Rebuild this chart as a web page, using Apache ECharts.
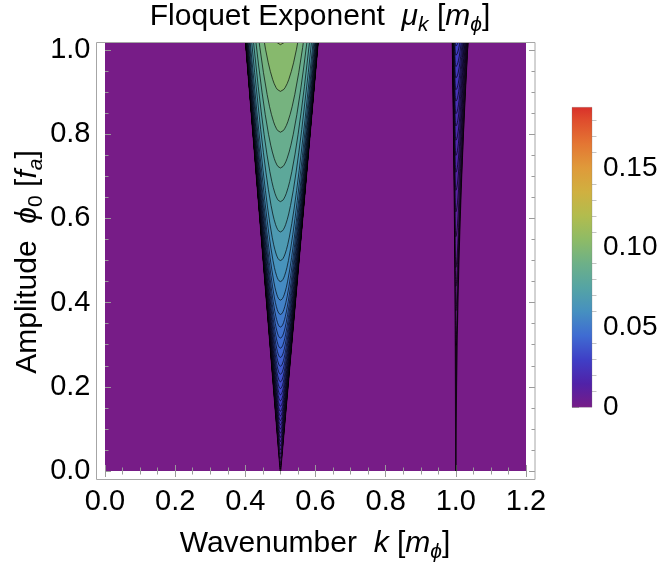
<!DOCTYPE html>
<html><head><meta charset="utf-8">
<script src="https://cdn.jsdelivr.net/npm/echarts@6/dist/echarts.min.js"></script>
<style>html,body{margin:0;padding:0;background:#fff}#c{width:663px;height:564px}</style>
</head><body><div id="c"></div>
<script>
// ---------------- data ----------------
const kRange = [0, 1.2];
const phiRange = [0, 1.017];
const xTickInterval = 0.2;
const yTicks = [0, 0.2, 0.4, 0.6, 0.8, 1.0];
const yMinorTicks = [0.05,0.1,0.15,0.25,0.3,0.35,0.45,0.5,0.55,0.65,0.7,0.75,0.85,0.9,0.95];
const cbRange = [0, 0.188];
const cbTicks = [0, 0.05, 0.10, 0.15];
const cbMinorTicks = [0.01,0.02,0.03,0.04,0.06,0.07,0.08,0.09,0.11,0.12,0.13,0.14,0.16,0.17,0.18];
// colour scale (value -> colour)
const paletteStops = [
  [0, '#771c87'], [0.015, '#5022a8'], [0.03, '#3f3fc6'], [0.045, '#3f6cd2'],
  [0.06, '#4690c0'], [0.075, '#55a4a4'], [0.09, '#6db088'], [0.105, '#8ebb66'],
  [0.12, '#b2bc4e'], [0.135, '#d0b040'], [0.15, '#df9a3a'], [0.165, '#e47633'],
  [0.18, '#df4c2d'], [0.188, '#d9302a']
];
// instability bands: tip position, edge widths at phi0 = 1 (left/right), growth power
const bandTips = [0.5, 1.0];
const bandLeftWidth = [0.0970, 0.0091];
const bandRightWidth = [0.1049, 0.0326];
const bandPower = [1, 2];
const edgeRows = [0, 0.05, 0.1, 0.2, 0.3, 0.4, 0.5, 0.6, 0.7, 0.8, 0.9, 1.0, 1.1];
// contour levels (mu) and the amplitude where each contour closes in each band
const contourLevels = [0.1060,0.0977,0.0902,0.0834,0.0768,0.0707,0.0646,0.0600,0.0559,0.0526,0.0496,0.0469,
  0.0444,0.0420,0.0397,0.0375,0.0354,0.0336,0.0317,0.0300,0.0283,0.0268,0.0253,0.0238,0.0224,0.0209,
  0.0195,0.0179,0.0163,0.0146,0.0129,0.0110,0.0090,0.0068,0.0056,0.0042,0.0026];
const band1Bottoms = [1.013,0.902,0.805,0.72,0.64,0.568,0.50,0.45,0.406,0.372,0.342,0.316,
  0.292,0.27,0.249,0.23,0.212,0.196,0.181,0.167,0.154,0.142,0.131,0.12,0.11,0.10,
  0.09,0.08,0.07,0.06,0.05,0.04,0.03,0.02,0.015,0.01,0.005];
const band2Bottoms = [null,null,null,null,null,null,null,null,null,null,null,null,
  null,null,null,null,null,null,null,1.01,0.988,0.961,0.934,0.906,0.879,0.849,
  0.820,0.786,0.750,0.710,0.667,0.616,0.557,0.484,0.439,0.381,0.299];
// shape of a contour across a band: (level / local maximum) -> (half width / band half width)
const contourProfile = [[1,0],[0.995,0.0999],[0.99,0.141],[0.98,0.199],[0.97,0.243],[0.95,0.312],
  [0.93,0.368],[0.9,0.436],[0.85,0.527],[0.8,0.6],[0.75,0.661],[0.7,0.714],[0.6,0.8],[0.5,0.866],
  [0.4,0.917],[0.3,0.954],[0.2,0.98],[0.1,0.995],[0.05,0.9987],[0.02,0.9998],[0.005,1],[0.001,1]];

// ---------------- styling ----------------
const FONT = '"Liberation Sans", Arial, sans-serif';
const tickColor = '#9a9a9a';
const lineColor = 'rgba(0,0,0,0.66)';
const edgeColor = 'rgba(0,0,0,0.85)';

function hexToRgb(h){return [parseInt(h.slice(1,3),16),parseInt(h.slice(3,5),16),parseInt(h.slice(5,7),16)];}
function colorAt(v){
  if (v <= paletteStops[0][0]) return paletteStops[0][1];
  for (let i=1;i<paletteStops.length;i++){
    if (v <= paletteStops[i][0]){
      const a=paletteStops[i-1], b=paletteStops[i];
      const t=(v-a[0])/(b[0]-a[0]);
      const ca=hexToRgb(a[1]), cb=hexToRgb(b[1]);
      const c=ca.map((x,j)=>Math.round(x+(cb[j]-x)*t));
      return 'rgb('+c.join(',')+')';
    }
  }
  return paletteStops[paletteStops.length-1][1];
}

function renderBand(params, api){
  const b = params.dataIndex;
  const tip = bandTips[b], wl = bandLeftWidth[b], wr = bandRightWidth[b], p = bandPower[b];
  const bottoms = b === 0 ? band1Bottoms : band2Bottoms;
  const children = [];
  const outer = [];
  for (let i=edgeRows.length-1;i>=0;i--){ const f=edgeRows[i]; outer.push(api.coord([tip - wl*Math.pow(f,p), f])); }
  for (let i=1;i<edgeRows.length;i++){ const f=edgeRows[i]; outer.push(api.coord([tip + wr*Math.pow(f,p), f])); }
  const lowest = contourLevels[contourLevels.length-1];
  children.push({type:'polygon', shape:{points:outer}, style:{fill: colorAt(lowest/2), stroke: edgeColor, lineWidth:1.6}});
  function arm(fb, w, sign){
    const pts=[];
    for (const [t, r] of contourProfile){
      const f = fb*Math.pow(t, -1/p);
      pts.push(api.coord([tip + sign*w*Math.pow(f,p)*r, f]));
      if (f > 1.1) break;
    }
    return pts;
  }
  for (let i=contourLevels.length-1;i>=0;i--){
    const fb = bottoms[i];
    if (fb == null) continue;
    const upper = i>0 ? contourLevels[i-1] : contourLevels[0]*1.04;
    const left = arm(fb, wl, -1).reverse();
    const right = arm(fb, wr, 1);
    const pts = left.concat(right.slice(1));
    children.push({type:'polygon', shape:{points:pts}, style:{fill: colorAt((contourLevels[i]+upper)/2), stroke: lineColor, lineWidth:1}});
  }
  return {type:'group', children};
}

function renderColorbar(params, api){
  const p0 = api.coord([0, cbRange[1]]);
  const p1 = api.coord([1, cbRange[0]]);
  const stops = paletteStops.map(s => ({offset: (s[0]-cbRange[0])/(cbRange[1]-cbRange[0]), color: s[1]}));
  return {type:'rect', shape:{x:p0[0], y:p0[1], width:p1[0]-p0[0], height:p1[1]-p0[1]},
    style:{fill: new echarts.graphic.LinearGradient(0,1,0,0,stops), stroke:'rgba(120,120,120,0.5)', lineWidth:0.5}};
}

const chart = echarts.init(document.getElementById('c'), null, {renderer:'canvas'});
const labelStyle = {fontSize:29, color:'#000', fontFamily:FONT};
function tickAxis(extra){
  return Object.assign({type:'value', axisLine:{show:false}, splitLine:{show:false}}, extra);
}
const nameRich = {
  a:{fontSize:30, fontFamily:FONT, fill:'#000', lineHeight:38},
  i:{fontSize:30, fontFamily:FONT, fill:'#000', fontStyle:'italic', lineHeight:38},
  s:{fontSize:21, fontFamily:FONT, fill:'#000', fontStyle:'italic', verticalAlign:'bottom', lineHeight:21},
  u:{fontSize:21, fontFamily:FONT, fill:'#000', verticalAlign:'bottom', lineHeight:21}
};
const option = {
  animation:false,
  backgroundColor:'#fff',
  grid:[
    {left:105, top:43, width:421, height:428, show:true, backgroundColor:'#771c87', borderWidth:0},
    {left:572, top:107.3, width:20, height:300}
  ],
  xAxis:[
    tickAxis({gridIndex:0, min:kRange[0], max:kRange[1], interval:xTickInterval, position:'bottom', offset:8.5,
      axisTick:{inside:true, length:6, lineStyle:{color:tickColor}},
      minorTick:{show:true, splitNumber:4, length:3.5, lineStyle:{color:tickColor}},
      axisLabel:Object.assign({margin:8, formatter:v=>v.toFixed(1)}, labelStyle)}),
    tickAxis({gridIndex:0, min:kRange[0], max:kRange[1], interval:xTickInterval, position:'top', offset:0,
      axisTick:{inside:true, length:6, lineStyle:{color:tickColor}},
      minorTick:{show:true, splitNumber:4, length:3.5, lineStyle:{color:tickColor}},
      axisLabel:{show:false}}),
    tickAxis({gridIndex:1, min:0, max:1, show:false})
  ],
  yAxis:[
    tickAxis({gridIndex:0, min:phiRange[0], max:phiRange[1], position:'left', offset:8.5,
      axisTick:{inside:true, length:6, customValues:yTicks, lineStyle:{color:tickColor}},
      axisLabel:Object.assign({margin:6, customValues:yTicks, formatter:v=>v.toFixed(1)}, labelStyle)}),
    tickAxis({gridIndex:0, min:phiRange[0], max:phiRange[1], position:'left', offset:8.5,
      axisTick:{inside:true, length:3.5, customValues:yMinorTicks, lineStyle:{color:tickColor}},
      axisLabel:{show:false}}),
    tickAxis({gridIndex:0, min:phiRange[0], max:phiRange[1], position:'right', offset:9,
      axisTick:{inside:true, length:6, customValues:yTicks, lineStyle:{color:tickColor}},
      axisLabel:{show:false}}),
    tickAxis({gridIndex:0, min:phiRange[0], max:phiRange[1], position:'right', offset:9,
      axisTick:{inside:true, length:3.5, customValues:yMinorTicks, lineStyle:{color:tickColor}},
      axisLabel:{show:false}}),
    tickAxis({gridIndex:1, min:cbRange[0], max:cbRange[1], position:'right', offset:0,
      axisTick:{inside:false, length:7, customValues:cbTicks, lineStyle:{color:'#aaa'}},
      axisLabel:{margin:11, customValues:cbTicks, fontSize:28, color:'#000', fontFamily:FONT,
        formatter:v=>v===0?'0':v.toFixed(2)}}),
    tickAxis({gridIndex:1, min:cbRange[0], max:cbRange[1], position:'right', offset:0,
      axisTick:{inside:false, length:4.5, customValues:cbMinorTicks, lineStyle:{color:'#c4c4c4'}},
      axisLabel:{show:false}})
  ],
  series:[
    {type:'custom', coordinateSystem:'cartesian2d', xAxisIndex:0, yAxisIndex:0, clip:true, silent:true,
      data:bandTips.map(t=>[t,0]), renderItem:renderBand},
    {type:'custom', coordinateSystem:'cartesian2d', xAxisIndex:2, yAxisIndex:4, silent:true,
      data:[[0, cbRange[0]]], renderItem:renderColorbar}
  ],
  graphic:[
    {type:'rect', z:100, shape:{x:96.5, y:42.5, width:438.5, height:437}, style:{fill:null, stroke:'#a6a6a6', lineWidth:1}},
    {type:'text', z:100, x:320, y:17, style:{
      text:'{a|Floquet Exponent  }{i|μ}{s|k}{a| [}{i|m}{s|ϕ}{a|]}', align:'center', verticalAlign:'middle', rich:nameRich}},
    {type:'text', z:100, x:315, y:544, style:{
      text:'{a|Wavenumber  }{i|k}{a| [}{i|m}{s|ϕ}{a|]}', align:'center', verticalAlign:'middle', rich:nameRich}},
    {type:'text', z:100, x:28, y:262, rotation:Math.PI/2, style:{
      text:'{a|Amplitude  }{i|ϕ}{u|0}{a| [}{i|f}{s|a}{a|]}', align:'center', verticalAlign:'middle', rich:nameRich}}
  ]
};
chart.setOption(option);
</script></body></html>
